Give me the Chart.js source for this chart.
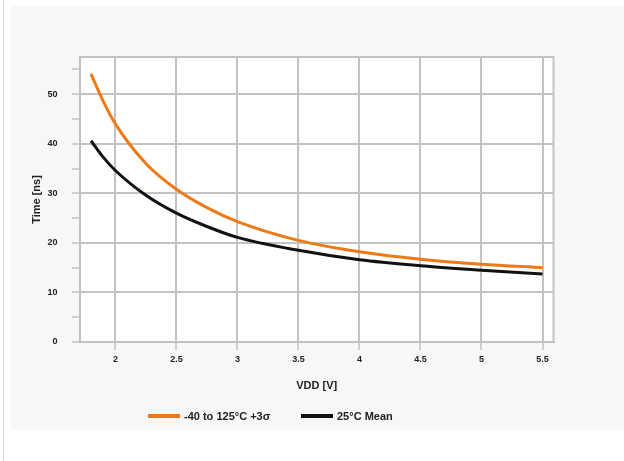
<!DOCTYPE html>
<html>
<head>
<meta charset="UTF-8">
<title>Time vs VDD</title>
<script src="https://cdn.jsdelivr.net/npm/chart.js@4.4.1/dist/chart.umd.min.js"></script>
<style>
	body { margin: 0; background: #fff; font-family: "Liberation Sans", Arial, sans-serif; }
	#edge { position: absolute; left: 3px; top: 0; width: 1px; height: 461px; background: #d4d4d4; }
	#panel { position: absolute; left: 11px; top: 6px; width: 613px; height: 424px; background: #f7f7f7; }
	#chart { position: absolute; left: 0; top: 0; }
	.key { position: absolute; height: 4px; width: 32px; top: 408px; }
	.keytxt { position: absolute; top: 404px; font: bold 11px "Liberation Sans", Arial, sans-serif; color: #222; line-height: 12px; white-space: nowrap; }
</style>
</head>
<body>
	<div id="edge"></div>
	<div id="panel">
		<canvas id="chart" width="613" height="424"></canvas>
		<!-- legend -->
		<div class="key" style="left:137px;background:#ec7a16"></div>
		<div class="keytxt" style="left:173px">-40 to 125°C +3σ</div>
		<div class="key" style="left:290px;background:#111"></div>
		<div class="keytxt" style="left:326px">25°C Mean</div>
	</div>
<script>
	// VDD [V]
	var vdd = [1.8, 1.9, 2, 2.25, 2.5, 2.75, 3, 3.5, 4, 4.5, 5, 5.5];
	// -40 to 125°C +3σ
	var timeMax = [54.1, 48.6, 44.0, 36.0, 30.8, 27.1, 24.3, 20.5, 18.2, 16.7, 15.7, 15.0];
	// 25°C Mean
	var timeMean = [40.6, 37.3, 34.6, 29.6, 26.0, 23.3, 21.1, 18.5, 16.6, 15.4, 14.5, 13.7];
	var seriesNames = ['-40 to 125°C +3σ', '25°C Mean'];

	var gridColor = '#c2c2c2';
	var tickFont = { family: '"Liberation Sans", Arial, sans-serif', size: 9, weight: 'bold' };
	var titleFont = { family: '"Liberation Sans", Arial, sans-serif', size: 11, weight: 'bold' };

	function toPoints(ys) {
		return vdd.map(function (x, i) { return { x: x, y: ys[i] }; });
	}

	// white plot area and the frame round it
	var plotBox = {
		id: 'plotBox',
		beforeDraw: function (chart) {
			var a = chart.chartArea, c = chart.ctx;
			c.save();
			c.fillStyle = '#fff';
			c.fillRect(a.left, a.top, a.right - a.left, a.bottom - a.top);
			c.restore();
		},
		beforeDatasetsDraw: function (chart) {
			var a = chart.chartArea, c = chart.ctx;
			c.save();
			c.strokeStyle = gridColor;
			c.lineWidth = 2;
			c.strokeRect(a.left, a.top, a.right - a.left, a.bottom - a.top);
			c.restore();
		}
	};

	var ctx = document.getElementById('chart').getContext('2d');
	var myChart = new Chart(ctx, {
		type: 'line',
		data: {
			datasets: [{
				label: seriesNames[0],
				data: toPoints(timeMax),
				borderColor: '#ec7a16',
				borderWidth: 3,
				pointRadius: 0,
				cubicInterpolationMode: 'monotone'
			}, {
				label: seriesNames[1],
				data: toPoints(timeMean),
				borderColor: '#111111',
				borderWidth: 3,
				pointRadius: 0,
				cubicInterpolationMode: 'monotone'
			}]
		},
		options: {
			responsive: false,
			devicePixelRatio: 1,
			animation: false,
			layout: { padding: { top: 51, right: 70.5, left: 0, bottom: 0 } },
			plugins: { legend: { display: false }, tooltip: { enabled: false } },
			scales: {
				x: {
					type: 'linear',
					min: 1.71,
					max: 5.59,
					afterFit: function (s) { s.height = 88; },
					ticks: {
						stepSize: 0.5,
						includeBounds: false,
						font: tickFont,
						color: '#222',
						padding: 4,
						maxRotation: 0,
						callback: function (v) { return String(v); }
					},
					grid: { color: gridColor, lineWidth: 2, tickLength: 8, tickColor: gridColor, tickWidth: 1.5 },
					border: { color: gridColor, width: 2 },
					title: { display: true, text: 'VDD [V]', font: titleFont, color: '#222', padding: { top: 0, bottom: 37 } }
				},
				y: {
					min: 0,
					max: 57.5,
					afterFit: function (s) { s.width = 69; },
					ticks: {
						stepSize: 5,
						includeBounds: false,
						font: tickFont,
						color: '#222',
						padding: 14.5,
						callback: function (v) { return v % 10 === 0 ? v : ''; }
					},
					grid: {
						color: function (c) { return c.tick && c.tick.value % 10 === 0 ? gridColor : 'rgba(0,0,0,0)'; },
						lineWidth: 2,
						tickLength: 8,
						tickColor: gridColor,
						tickWidth: 1.5
					},
					border: { color: gridColor, width: 2 },
					title: { display: true, text: 'Time [ns]', font: titleFont, color: '#222', padding: { top: 19, bottom: 0 } }
				}
			}
		},
		plugins: [plotBox]
	});
</script>
</body>
</html>
